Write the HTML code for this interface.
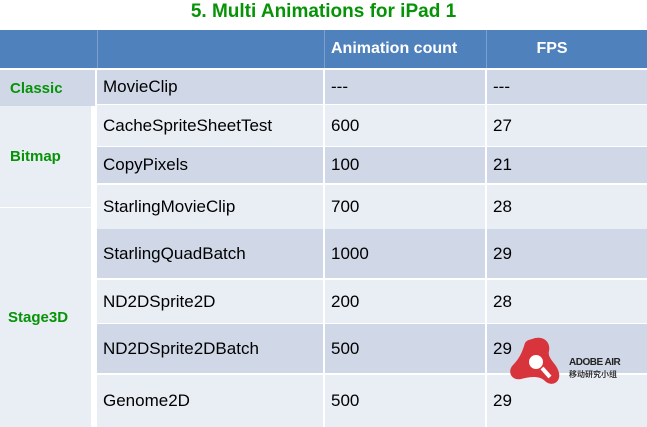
<!DOCTYPE html>
<html><head><meta charset="utf-8"><style>
body{margin:0;width:647px;height:427px;background:#fff;position:relative;overflow:hidden;font-family:"Liberation Sans","DejaVu Sans",sans-serif;}
.c{position:absolute;box-sizing:border-box;display:flex;align-items:center;font-size:17px;color:#000;padding-left:6px;}
.d{background:#d0d8e8}.l{background:#e9edf4}
.h{background:#4f81bd;color:#fff;font-weight:bold;font-size:16px;padding:0}
.g{color:#079307;font-weight:bold;font-size:15px;padding-left:10px}
.v{position:absolute;top:30px;width:1px;height:38px;background:#7fa0cf}
</style></head><body>
<div style="position:absolute;left:0;width:647px;top:1px;text-align:center;color:#079307;font-weight:bold;font-size:19px;">5. Multi Animations for iPad 1</div>
<div class="c h" style="left:0;top:30px;width:647px;height:38px;"></div>
<div class="v" style="left:97px"></div>
<div class="v" style="left:324px"></div>
<div class="v" style="left:486px"></div>
<div class="c h" style="left:331px;top:30px;width:150px;height:38px;">Animation count</div>
<div class="c h" style="left:487px;top:30px;width:130px;height:38px;justify-content:center">FPS</div>

<div class="c d g" style="left:0;top:70px;width:95px;height:36px;">Classic</div>
<div class="c l g" style="left:0;top:106px;width:91px;height:101px;">Bitmap</div>
<div class="c l g" style="left:0;top:208px;width:91px;height:219px;padding-left:8px">Stage3D</div>

<div class="c d" style="left:97px;top:70px;width:226px;height:34px;">MovieClip</div>
<div class="c d" style="left:325px;top:70px;width:160px;height:34px;">---</div>
<div class="c d" style="left:487px;top:70px;width:160px;height:34px;">---</div>

<div class="c l" style="left:97px;top:105px;width:226px;height:41px;">CacheSpriteSheetTest</div>
<div class="c l" style="left:325px;top:105px;width:160px;height:41px;">600</div>
<div class="c l" style="left:487px;top:105px;width:160px;height:41px;">27</div>

<div class="c d" style="left:97px;top:147px;width:226px;height:36px;">CopyPixels</div>
<div class="c d" style="left:325px;top:147px;width:160px;height:36px;">100</div>
<div class="c d" style="left:487px;top:147px;width:160px;height:36px;">21</div>

<div class="c l" style="left:97px;top:185px;width:226px;height:44px;">StarlingMovieClip</div>
<div class="c l" style="left:325px;top:185px;width:160px;height:44px;">700</div>
<div class="c l" style="left:487px;top:185px;width:160px;height:44px;">28</div>

<div class="c d" style="left:97px;top:229px;width:226px;height:49px;">StarlingQuadBatch</div>
<div class="c d" style="left:325px;top:229px;width:160px;height:49px;">1000</div>
<div class="c d" style="left:487px;top:229px;width:160px;height:49px;">29</div>

<div class="c l" style="left:97px;top:280px;width:226px;height:43px;">ND2DSprite2D</div>
<div class="c l" style="left:325px;top:280px;width:160px;height:43px;">200</div>
<div class="c l" style="left:487px;top:280px;width:160px;height:43px;">28</div>

<div class="c d" style="left:97px;top:324px;width:226px;height:49px;">ND2DSprite2DBatch</div>
<div class="c d" style="left:325px;top:324px;width:160px;height:49px;">500</div>
<div class="c d" style="left:487px;top:324px;width:160px;height:49px;">29</div>

<div class="c l" style="left:97px;top:375px;width:226px;height:52px;">Genome2D</div>
<div class="c l" style="left:325px;top:375px;width:160px;height:52px;">500</div>
<div class="c l" style="left:487px;top:375px;width:160px;height:52px;">29</div>

<svg style="position:absolute;left:507px;top:335px" width="60" height="60" viewBox="0 0 60 60">
<path d="M25 4 C35 0 44 6 42 16 C40 24 50 28 52 38 C54 48 44 52 38 46 C32 40 22 42 14 44 C4 46 0 36 6 30 C14 22 16 14 18 8 C20 5 22 5 25 4Z" fill="#d8343b"/>
<circle cx="29" cy="27" r="8" fill="#fff" stroke="#d8343b" stroke-width="2"/>
<line x1="35" y1="33" x2="43" y2="42" stroke="#fff" stroke-width="4"/>
</svg>
<div style="position:absolute;left:569px;top:357px;font-size:10px;font-weight:bold;color:#222;letter-spacing:-0.5px">ADOBE AIR</div>
<div style="position:absolute;left:569px;top:369px;font-size:8px;font-weight:bold;color:#333;font-family:'Noto Sans CJK SC',sans-serif">移动研究小组</div>
</body></html>
